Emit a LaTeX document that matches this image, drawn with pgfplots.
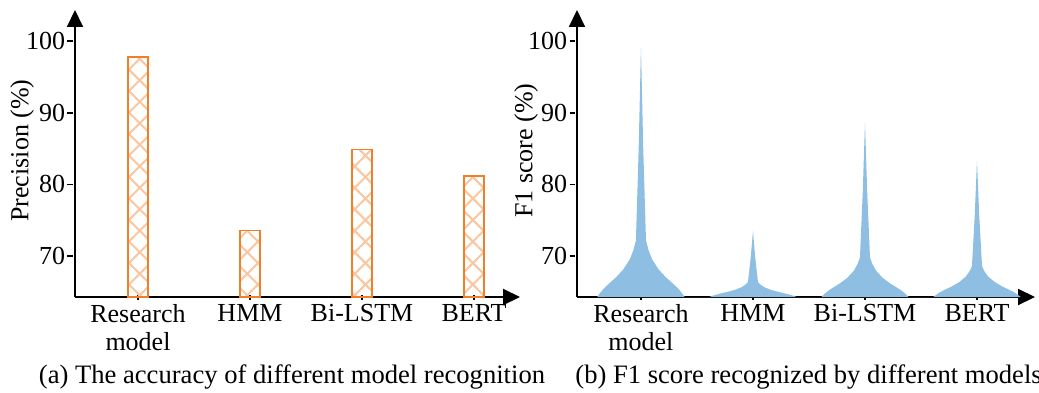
\documentclass[border=0pt]{standalone}
\usepackage{pgfplots}
\pgfplotsset{compat=1.18}
\usepackage{fontspec}
\setmainfont{Liberation Serif}
\usetikzlibrary{patterns.meta,arrows.meta}
\definecolor{barorange}{HTML}{F07F2A}
\definecolor{hatchorange}{HTML}{F9C6A0}
\definecolor{peakblue}{HTML}{8EBFE3}
\newcommand{\chartfont}{\fontsize{13}{14}\selectfont}
\pgfplotsset{
  common/.style={
    scale only axis,
    axis lines=left,
    axis line style={line width=1pt,-{Triangle[length=8.5pt,width=8pt]}},
    ymin=64.3, ymax=104.33,
    ytick={70,80,90,100},
    yticklabels={70,80,90,100},
    xtick={0,1,2,3},
    xticklabels={Research\\model,HMM,Bi-LSTM,BERT},
    xticklabel style={align=center,anchor=north,yshift=1pt,font=\fontsize{13}{14}\selectfont},
    yticklabel style={font=\fontsize{13}{14}\selectfont,anchor=east,inner sep=0pt,xshift=-3.5pt},
    tick style={line width=0.8pt,black},
    major tick length=2.5pt,
    ytick style={xshift=-2.5pt},
    height=143.5pt,
    anchor=south west,
  }
}
\begin{document}
\begin{tikzpicture}
\begin{axis}[common,
  at={(37.5pt,-148.5pt)},
  width=222.5pt,
  xmin=-0.5625, xmax=3.411,
  ylabel={Precision (\%)},
  every axis y label/.style={at={(axis description cs:-0.119,0.51)},rotate=90,anchor=center,font=\chartfont},
]
\addplot[ybar,bar width=10pt,draw=barorange,line width=0.8pt,
  pattern={Hatch[angle=45,distance=7.6pt,line width=1pt]},pattern color=hatchorange]
  coordinates {(0,97.8) (1,73.6) (2,84.9) (3,81.2)};
\end{axis}
\begin{axis}[common,
  at={(288.5pt,-148.5pt)},
  width=229pt,
  xmin=-0.571, xmax=3.518,
  ylabel={F1 score (\%)},
  every axis y label/.style={at={(axis description cs:-0.111,0.51)},rotate=90,anchor=center,font=\chartfont},
]
\addplot[fill=peakblue,draw=none] coordinates {
(-0.39,64.3)(-0.365,64.86)(-0.33,65.52)(-0.28,66.25)(-0.22,67.09)(-0.158,68.14)(-0.10,69.54)(-0.067,70.86)(-0.045,72.19)(-0.02,85.24)(0,99.2)(0.02,85.24)(0.045,72.19)(0.067,70.86)(0.10,69.54)(0.158,68.14)(0.22,67.09)(0.28,66.25)(0.33,65.52)(0.365,64.86)(0.39,64.3)
(0.61,64.3)(0.635,64.45)(0.67,64.62)(0.72,64.82)(0.78,65.04)(0.842,65.31)(0.90,65.68)(0.933,66.03)(0.955,66.38)(0.98,69.82)(1,73.5)(1.02,69.82)(1.045,66.38)(1.067,66.03)(1.10,65.68)(1.158,65.31)(1.22,65.04)(1.28,64.82)(1.33,64.62)(1.365,64.45)(1.39,64.3)
(1.61,64.3)(1.635,64.69)(1.67,65.15)(1.72,65.66)(1.78,66.24)(1.842,66.97)(1.90,67.95)(1.933,68.87)(1.955,69.79)(1.98,78.88)(2,88.6)(2.02,78.88)(2.045,69.79)(2.067,68.87)(2.10,67.95)(2.158,66.97)(2.22,66.24)(2.28,65.66)(2.33,65.15)(2.365,64.69)(2.39,64.3)
(2.61,64.3)(2.635,64.60)(2.67,64.97)(2.72,65.36)(2.78,65.82)(2.842,66.39)(2.90,67.15)(2.933,67.87)(2.955,68.59)(2.98,75.7)(3,83.3)(3.02,75.7)(3.045,68.59)(3.067,67.87)(3.10,67.15)(3.158,66.39)(3.22,65.82)(3.28,65.36)(3.33,64.97)(3.365,64.60)(3.39,64.3)
} -- cycle;
\end{axis}
\node[anchor=base,font=\fontsize{13.3}{14.5}\selectfont] at (146pt,-191.5pt) {(a) The accuracy of different model recognition};
\node[anchor=base west,font=\fontsize{13.3}{14.5}\selectfont,inner sep=0pt] at (287.5pt,-191.5pt) {(b) F1 score recognized by different models};
\pgfresetboundingbox
\useasboundingbox (0,0) rectangle (519.5pt,-196pt);
\end{tikzpicture}
\end{document}
